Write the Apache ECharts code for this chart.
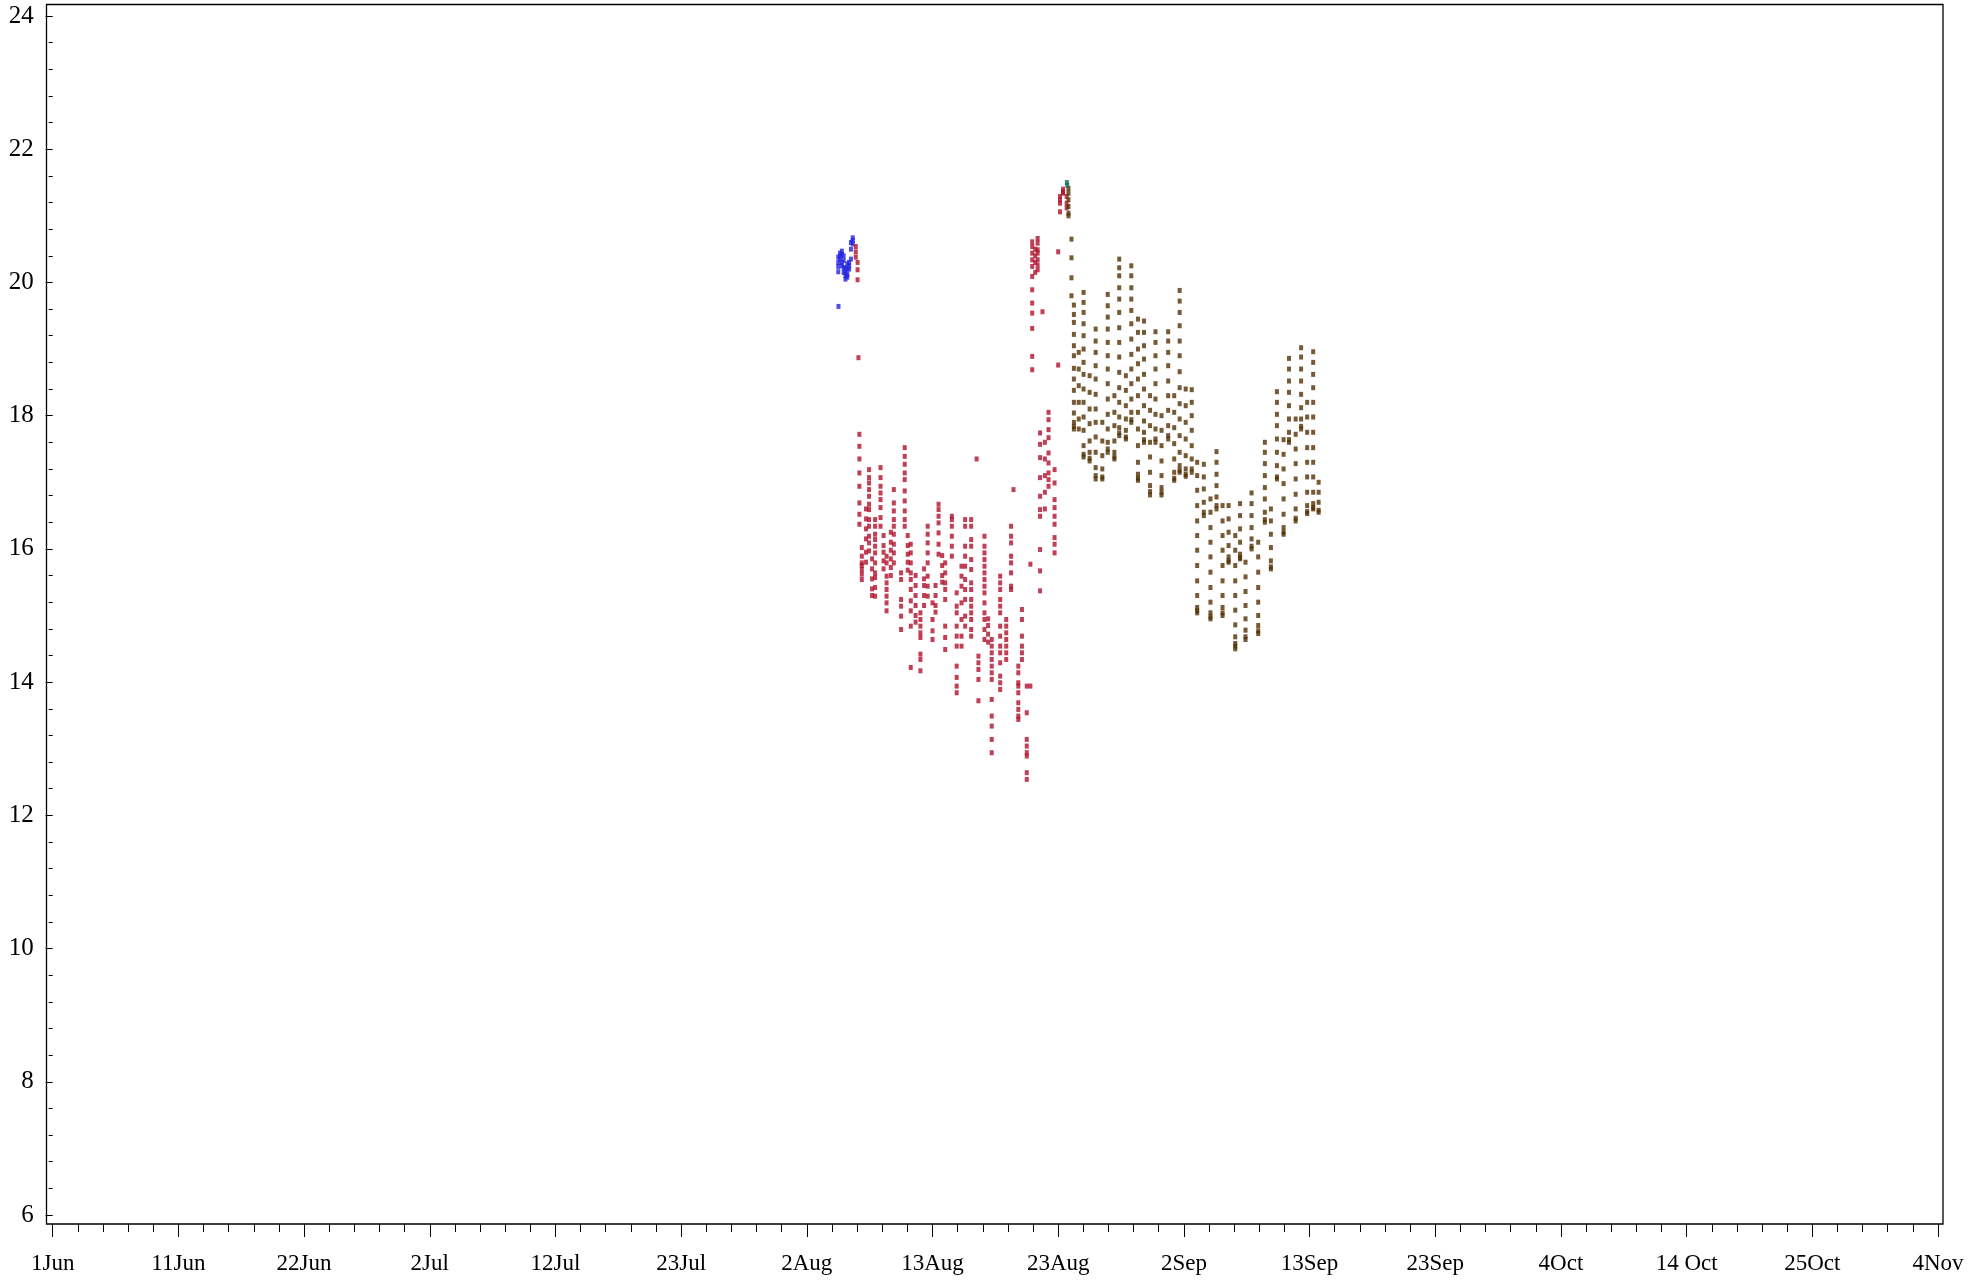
<!DOCTYPE html>
<html><head><meta charset="utf-8">
<script src="https://cdn.jsdelivr.net/npm/echarts@6/dist/echarts.min.js"></script>
<style>html,body{margin:0;padding:0;background:#fff}#c{width:1982px;height:1281px}</style>
</head><body><div id="c"></div>
<script>
// x values are days since 1 June
const xTickLabels = ['1Jun','11Jun','22Jun','2Jul','12Jul','23Jul','2Aug','13Aug','23Aug','2Sep','13Sep','23Sep','4Oct','14 Oct','25Oct','4Nov'];

const blueDays = [65.0, 65.02, 65.15, 65.3, 65.45, 65.6, 65.75, 65.9, 66.05, 66.2];
const blueValues = [
  [20.16, 20.24, 20.3, 20.38],
  [19.64],
  [20.35, 20.4, 20.44],
  [20.47, 20.42, 20.3, 20.25],
  [20.4, 20.33, 20.22, 20.15],
  [20.22, 20.15, 20.1, 20.05],
  [20.12, 20.2, 20.28, 20.08],
  [20.25, 20.3, 20.2],
  [20.35, 20.5, 20.6],
  [20.58, 20.67, 20.63]
];

const redDays = [66.45, 66.6, 66.67, 66.75, 66.95, 67.3, 67.55, 67.8, 68.05, 68.5, 68.75, 69.0, 69.35, 69.6, 70.2, 70.5, 70.75, 71.0, 71.4, 71.8, 72.1, 72.4, 72.8, 73.05, 73.3, 73.6, 73.85, 74.4, 74.8, 75.2, 75.5, 76.0, 76.45, 76.6, 77.1, 77.4, 77.7, 78.4, 78.9, 79.3, 79.5, 79.9, 80.2, 80.6, 80.9, 81.05, 81.3, 81.5, 81.7, 81.9, 82.1, 82.4, 82.9, 83.2, 83.35, 83.6, 83.9];
const redValues = [
  [20.54, 20.46, 20.38],
  [20.3, 20.19, 20.04],
  [18.87],
  [17.72, 17.54, 17.35, 17.14, 16.94, 16.69, 16.52, 16.37],
  [16.02, 15.89, 15.79, 15.75, 15.69, 15.62, 15.54],
  [16.6, 16.45, 16.3, 16.15, 15.95, 15.8],
  [17.19, 17.07, 16.99, 16.89, 16.79, 16.67, 16.59, 16.44, 16.34, 16.19, 16.09, 15.97],
  [15.85, 15.7, 15.55, 15.4, 15.3],
  [16.44, 16.34, 16.22, 16.14, 16.04, 15.94, 15.79, 15.64, 15.57, 15.42, 15.29],
  [17.22, 17.07, 16.94, 16.84, 16.74, 16.62, 16.47, 16.34],
  [16.2, 16.05, 15.95, 15.82, 15.7],
  [15.89, 15.79, 15.59, 15.49, 15.39, 15.29, 15.19, 15.07],
  [16.25, 16.1, 15.98, 15.85, 15.72, 15.6],
  [16.89, 16.69, 16.57, 16.44, 16.34, 16.22, 16.07, 15.94, 15.79],
  [15.64, 15.54, 15.24, 15.14, 14.99, 14.79],
  [17.52, 17.39, 17.27, 17.14, 17.04, 16.87, 16.72, 16.57, 16.44, 16.34],
  [16.2, 16.05, 15.92, 15.8, 15.68],
  [16.07, 15.94, 15.79, 15.64, 15.54, 15.39, 15.22, 15.07, 14.84, 14.22],
  [15.6, 15.45, 15.3, 15.15, 15.0, 14.9],
  [15.04, 14.94, 14.84, 14.74, 14.67, 14.42, 14.34, 14.17],
  [15.7, 15.55, 15.45, 15.3, 15.15],
  [16.34, 16.22, 16.09, 15.94, 15.79, 15.59, 15.44, 15.29],
  [15.19, 14.94, 14.77, 14.64],
  [15.45, 15.3, 15.15, 15.05],
  [16.67, 16.59, 16.49, 16.39, 16.24, 16.07, 15.92],
  [15.9, 15.75, 15.6, 15.5],
  [15.79, 15.64, 15.49, 15.39, 15.24, 14.84, 14.67, 14.49],
  [16.49, 16.44, 16.34, 16.19, 16.04, 15.89],
  [15.34, 15.14, 15.04, 14.84, 14.69, 14.54, 14.24, 14.07, 13.94, 13.84],
  [15.74, 15.59, 15.44, 15.19, 14.94, 14.69, 14.54],
  [16.44, 16.34, 16.04, 15.89, 15.74, 15.54, 15.39, 15.24, 14.99, 14.84],
  [16.44, 16.34, 16.14, 16.04, 15.84, 15.69, 15.49, 15.39, 15.24, 15.14, 15.04, 14.94, 14.79, 14.69],
  [17.35],
  [14.39, 14.29, 14.19, 14.04, 13.72],
  [16.19, 16.04, 15.94, 15.84, 15.74, 15.64, 15.54, 15.44, 15.34, 15.19, 15.04, 14.94, 14.79, 14.64],
  [14.95, 14.85, 14.72, 14.6],
  [14.64, 14.54, 14.44, 14.34, 14.24, 14.14, 14.04, 13.74, 13.49, 13.34, 13.14, 12.94],
  [15.59, 15.49, 15.39, 15.24, 15.14, 15.04, 14.84, 14.69, 14.54, 14.44, 14.29, 14.09, 13.99, 13.89],
  [14.94, 14.84, 14.74, 14.64, 14.54, 14.44, 14.34],
  [16.34, 16.19, 16.09, 15.89, 15.79, 15.64, 15.44, 15.39],
  [16.89],
  [14.24, 14.14, 13.99, 13.94, 13.84, 13.69, 13.59, 13.49, 13.44],
  [15.09, 14.94, 14.69, 14.54, 14.44, 14.34],
  [13.94, 13.54, 13.14, 13.04, 12.94, 12.89, 12.64, 12.54],
  [15.77, 13.94],
  [20.61, 20.54, 20.44, 20.34, 20.24, 20.09, 19.89, 19.69, 19.54, 19.31, 18.89, 18.69],
  [20.5, 20.4, 20.3, 20.15],
  [20.66, 20.59, 20.49, 20.44, 20.34, 20.26, 20.19],
  [17.74, 17.57, 17.37, 17.07, 16.79, 16.59, 16.49, 15.99, 15.67, 15.37],
  [19.56],
  [17.6, 17.35, 17.1, 16.85, 16.6],
  [18.05, 17.94, 17.79, 17.67, 17.44, 17.29, 17.14, 17.04, 16.94],
  [17.19, 16.99, 16.74, 16.62, 16.49, 16.37, 16.17, 16.07, 15.94],
  [20.46, 18.76],
  [21.19, 21.06, 21.24, 21.29],
  [21.36, 21.4, 21.34],
  [21.29, 21.19, 21.12]
];

const brownDays = [84.05, 84.3, 84.5, 84.9, 85.3, 85.8, 86.3, 86.85, 87.3, 87.85, 88.25, 88.8, 89.25, 89.8, 90.3, 90.8, 91.25, 91.75, 92.3, 92.8, 93.25, 93.75, 94.25, 94.7, 95.25, 95.8, 96.3, 96.8, 97.3, 97.85, 98.25, 98.7, 99.2, 99.75, 100.3, 100.8, 101.3, 101.85, 102.3, 102.85, 103.3, 103.8, 104.3, 104.75];
const brownValues = [
  [21.41, 21.34, 21.24, 21.14, 21.04, 21.0],
  [20.65, 20.37, 20.07, 19.8],
  [19.66, 19.52, 19.4, 19.22, 19.05, 18.9, 18.71, 18.55, 18.38, 18.2, 18.04, 17.9, 17.84, 17.8],
  [18.95, 18.7, 18.45, 18.2, 17.95, 17.8],
  [19.85, 19.7, 19.55, 19.38, 19.2, 19.0, 18.8, 18.62, 18.4, 18.2, 17.98, 17.78, 17.55, 17.42, 17.38],
  [18.6, 18.35, 18.1, 17.88, 17.62, 17.45, 17.36, 17.32],
  [19.3, 19.12, 18.95, 18.75, 18.55, 18.32, 18.1, 17.9, 17.68, 17.45, 17.22, 17.1, 17.05],
  [17.9, 17.62, 17.4, 17.2, 17.08, 17.05],
  [19.82, 19.65, 19.48, 19.3, 19.1, 18.9, 18.7, 18.48, 18.25, 18.02, 17.8, 17.6, 17.5, 17.45],
  [18.3, 18.05, 17.85, 17.62, 17.45, 17.38, 17.35],
  [20.35, 20.22, 20.1, 19.92, 19.75, 19.55, 19.32, 19.1, 18.88, 18.65, 18.42, 18.2, 17.98, 17.82, 17.74, 17.7],
  [18.6, 18.38, 18.15, 17.95, 17.78, 17.68, 17.65],
  [20.25, 20.1, 19.92, 19.75, 19.58, 19.38, 19.15, 18.92, 18.7, 18.48, 18.25, 18.05, 17.94, 17.9],
  [19.45, 19.25, 19.0, 18.78, 18.55, 18.3, 18.05, 17.8, 17.55, 17.3, 17.12, 17.06, 17.03],
  [19.42, 19.25, 19.05, 18.85, 18.62, 18.4, 18.15, 17.92, 17.75, 17.64, 17.6],
  [18.3, 18.08, 17.85, 17.6, 17.38, 17.15, 16.95, 16.86, 16.81],
  [19.26, 19.1, 18.9, 18.7, 18.48, 18.25, 18.02, 17.8, 17.65, 17.6],
  [18.0, 17.78, 17.55, 17.32, 17.1, 16.92, 16.85, 16.81],
  [19.26, 19.12, 18.95, 18.75, 18.52, 18.3, 18.08, 17.85, 17.7, 17.65],
  [18.3, 18.05, 17.82, 17.58, 17.35, 17.15, 17.06, 17.03],
  [19.88, 19.72, 19.55, 19.35, 19.12, 18.9, 18.66, 18.42, 18.18, 17.95, 17.7, 17.45, 17.25, 17.18, 17.15],
  [18.4, 18.15, 17.9, 17.65, 17.4, 17.2, 17.12, 17.09],
  [18.39, 18.2, 18.0, 17.78, 17.55, 17.35, 17.2, 17.15],
  [17.3, 17.1, 16.88, 16.65, 16.42, 16.2, 15.98, 15.75, 15.52, 15.3, 15.12, 15.07, 15.04],
  [17.27, 17.08, 16.9, 16.7, 16.55, 16.5],
  [16.75, 16.55, 16.32, 16.1, 15.88, 15.65, 15.42, 15.2, 15.04, 14.98, 14.95],
  [17.46, 17.3, 17.12, 16.95, 16.78, 16.65, 16.6],
  [16.65, 16.42, 16.2, 15.98, 15.75, 15.52, 15.3, 15.12, 15.04, 15.0],
  [16.65, 16.45, 16.25, 16.05, 15.88, 15.82, 15.8],
  [16.2, 15.98, 15.75, 15.52, 15.3, 15.08, 14.86, 14.68, 14.58, 14.54, 14.5],
  [16.68, 16.5, 16.3, 16.1, 15.92, 15.87, 15.85],
  [15.8, 15.58, 15.36, 15.15, 14.95, 14.78, 14.68, 14.64],
  [16.84, 16.68, 16.5, 16.32, 16.15, 16.04, 16.0],
  [16.1, 15.88, 15.65, 15.42, 15.2, 15.0, 14.85, 14.77, 14.73],
  [17.6, 17.45, 17.28, 17.1, 16.92, 16.75, 16.55, 16.44, 16.4],
  [16.6, 16.42, 16.22, 16.02, 15.82, 15.73, 15.7],
  [18.36, 18.2, 18.02, 17.85, 17.65, 17.45, 17.25, 17.08, 17.05],
  [17.64, 17.42, 17.2, 16.98, 16.75, 16.52, 16.32, 16.25, 16.22],
  [18.86, 18.7, 18.52, 18.35, 18.15, 17.95, 17.75, 17.64, 17.6],
  [17.95, 17.72, 17.5, 17.28, 17.05, 16.82, 16.6, 16.46, 16.42],
  [19.02, 18.88, 18.7, 18.52, 18.32, 18.12, 17.95, 17.84, 17.8],
  [18.2, 17.98, 17.75, 17.52, 17.3, 17.08, 16.85, 16.65, 16.56, 16.53],
  [18.96, 18.8, 18.62, 18.42, 18.2, 17.98, 17.75, 17.52, 17.3, 17.08, 16.85, 16.68, 16.62, 16.6],
  [17.0, 16.85, 16.7, 16.58, 16.55]
];

const greenDays = [83.92, 83.95];
const greenValues = [[21.5], [21.46]];

function toPoints(days, vals) {
  const out = [];
  days.forEach((d, i) => vals[i].forEach(v => out.push([d, v])));
  return out;
}

const font = 'Liberation Serif';
const chart = echarts.init(document.getElementById('c'), null, {renderer: 'canvas'});
function sc(name, data, color) {
  return {
    name, type: 'scatter', data, symbol: 'rect', symbolSize: [4, 5],
    itemStyle: {color}, silent: true, animation: false
  };
}
chart.setOption({
  backgroundColor: '#fff',
  animation: false,
  grid: {left: 52.7, right: 44, top: 16, bottom: 66, containLabel: false},
  xAxis: {
    type: 'value', min: 0, max: 156, interval: 10.4, offset: 9,
    axisLine: {show: false},
    axisTick: {show: true, length: 13, lineStyle: {color: '#000', width: 1}},
    minorTick: {show: true, splitNumber: 5, length: 8, lineStyle: {color: '#000', width: 1}},
    splitLine: {show: false}, minorSplitLine: {show: false},
    axisLabel: {margin: 28, fontFamily: font, fontSize: 23, color: '#000',
      formatter: v => xTickLabels[Math.round(v / 10.4)] || ''}
  },
  yAxis: {
    type: 'value', min: 6, max: 24, interval: 2, offset: 6,
    axisLine: {show: false},
    axisTick: {show: true, length: 7, lineStyle: {color: '#000', width: 1}},
    minorTick: {show: true, splitNumber: 5, length: 4, lineStyle: {color: '#000', width: 1}},
    splitLine: {show: false}, minorSplitLine: {show: false},
    axisLabel: {margin: 13, fontFamily: font, fontSize: 25, color: '#000'}
  },
  graphic: [{
    type: 'rect', silent: true, z: 100,
    shape: {x: 46.5, y: 4.5, width: 1896.5, height: 1219.5},
    style: {fill: 'none', stroke: '#000', lineWidth: 1.3}
  }],
  series: [
    sc('blue', toPoints(blueDays, blueValues), '#2424e0'),
    sc('red', toPoints(redDays, redValues), '#b0102c'),
    sc('brown', toPoints(brownDays, brownValues), '#543104'),
    sc('green', toPoints(greenDays, greenValues), '#17685a')
  ]
});
</script>
</body></html>
